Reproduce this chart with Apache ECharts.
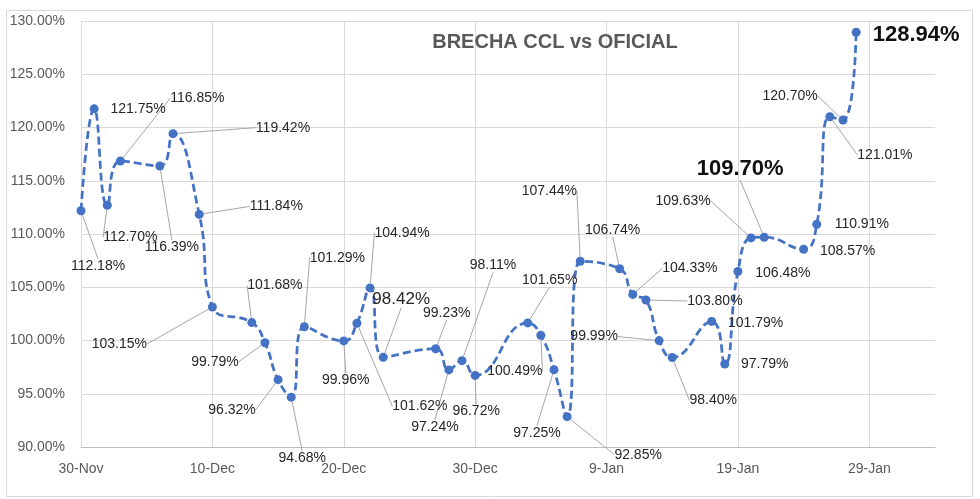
<!DOCTYPE html>
<html>
<head>
<meta charset="utf-8">
<script src="https://cdn.jsdelivr.net/npm/echarts@6/dist/echarts.min.js"></script>
<style>
html,body{margin:0;padding:0;background:#fff;}
#chart{width:980px;height:499px;}
</style>
</head>
<body>
<div id="chart"></div>
<script>
// ---- data ----
const dates = ['2021-11-30','2021-12-01','2021-12-02','2021-12-03','2021-12-06','2021-12-07','2021-12-09','2021-12-10',
  '2021-12-13','2021-12-14','2021-12-15','2021-12-16','2021-12-17','2021-12-20','2021-12-21','2021-12-22','2021-12-23',
  '2021-12-27','2021-12-28','2021-12-29','2021-12-30','2022-01-03','2022-01-04','2022-01-05','2022-01-06','2022-01-07',
  '2022-01-10','2022-01-11','2022-01-12','2022-01-13','2022-01-14','2022-01-17','2022-01-18','2022-01-19','2022-01-20',
  '2022-01-21','2022-01-24','2022-01-25','2022-01-26','2022-01-27','2022-01-28'];
const values = [112.18,121.75,112.70,116.85,116.39,119.42,111.84,103.15,
  101.68,99.79,96.32,94.68,101.29,99.96,101.62,104.94,98.42,
  99.23,97.24,98.11,96.72,101.65,100.49,97.25,92.85,107.44,
  106.74,104.33,103.80,99.99,98.40,101.79,97.79,106.48,109.63,
  109.70,108.57,110.91,121.01,120.70,128.94];
const xTickLabels = ['30-Nov','10-Dec','20-Dec','30-Dec','9-Jan','19-Jan','29-Jan'];
const yTickValues = [90,95,100,105,110,115,120,125,130];
const title = 'BRECHA CCL vs OFICIAL';

// ---- label placement (offset of label centre from its point, px) ----
const labelDx = [17,44,23,77,12,110,77,-93, 23,-50,-46,11,33,2,63,32,18, 11,-14,31,1,22,-26,-17,71,-31, -7,57,69,-65,41,44,40,45,-68, -24,44,45,55,-53,60];
const labelDy = [55,0,32,-63,81,-6,-8,37, -37,19,30,61,-69,39,83,-55,-58, -36,57,-95,36,-43,36,63,38,-70, -39,-26,1,-4,43,2,0,2,-37, -68,2,0,38,-24,3];
const noLeader = [1,32,31,33,36,37,40];
const bigBold = [35,40];
const bigPlain = [16];

const startMs = Date.UTC(2021,10,30);
function dayIndex(s){ const p=s.split('-'); return Math.round((Date.UTC(+p[0],+p[1]-1,+p[2])-startMs)/86400000); }

const seriesData = dates.map((d,i)=>{
  const item = {value:[dayIndex(d), values[i]]};
  const lab = {};
  if (bigBold.indexOf(i)>=0){ lab.fontSize=22; lab.fontWeight='bold'; lab.color='#111'; }
  if (bigPlain.indexOf(i)>=0){ lab.fontSize=17; }
  item.label = lab;
  item.labelLine = {show: noLeader.indexOf(i)<0};
  return item;
});

const chart = echarts.init(document.getElementById('chart'), null, {renderer:'canvas'});
const FONT = '"Liberation Sans", Arial, sans-serif';
chart.setOption({
  animation:false,
  backgroundColor:'#fff',
  textStyle:{fontFamily:FONT},
  title:{text:title, left:550, top:27, textAlign:'center',
    textStyle:{fontFamily:FONT, fontSize:20, fontWeight:'bold', color:'#595959'}},
  graphic:[{type:'rect', shape:{x:6.5,y:10.5,width:966,height:486}, style:{fill:null, stroke:'#d9d9d9', lineWidth:1}, silent:true, z:-1}],
  grid:{left:81, right:45, top:21, bottom:52, containLabel:false},
  xAxis:{type:'value', min:0, max:65, interval:10,
    axisLine:{show:true, lineStyle:{color:'#bfbfbf', width:1}},
    axisTick:{show:false},
    splitLine:{show:true, showMaxLine:false, lineStyle:{color:'#d9d9d9', width:1}},
    axisLabel:{color:'#595959', fontSize:14, fontFamily:FONT, margin:15, showMaxLabel:false,
      formatter:(v)=>{ const k=Math.round(v/10); return (v%10===0 && xTickLabels[k]!==undefined)? xTickLabels[k] : ''; }}
  },
  yAxis:{type:'value', min:yTickValues[0], max:yTickValues[yTickValues.length-1], interval:5,
    axisLine:{show:false}, axisTick:{show:false},
    splitLine:{show:true, lineStyle:{color:'#d9d9d9', width:1}},
    axisLabel:{color:'#595959', fontSize:14, fontFamily:FONT, margin:16, formatter:(v)=>v.toFixed(2)+'%'}
  },
  series:[{
    type:'line', data:seriesData, smooth:0.5,
    symbol:'circle', symbolSize:9,
    itemStyle:{color:'#4472C4'},
    lineStyle:{color:'#4472C4', width:2.75, type:[8,4]},
    label:{show:true, position:'inside', color:'#262626', fontSize:14, fontFamily:FONT,
      formatter:(p)=>p.value[1].toFixed(2)+'%'},
    labelLine:{show:true, lineStyle:{color:'#a6a6a6', width:1}, smooth:false},
    labelLayout:(params)=>({dx:labelDx[params.dataIndex], dy:labelDy[params.dataIndex], hideOverlap:false}),
    z:3
  }]
});
</script>
</body>
</html>
